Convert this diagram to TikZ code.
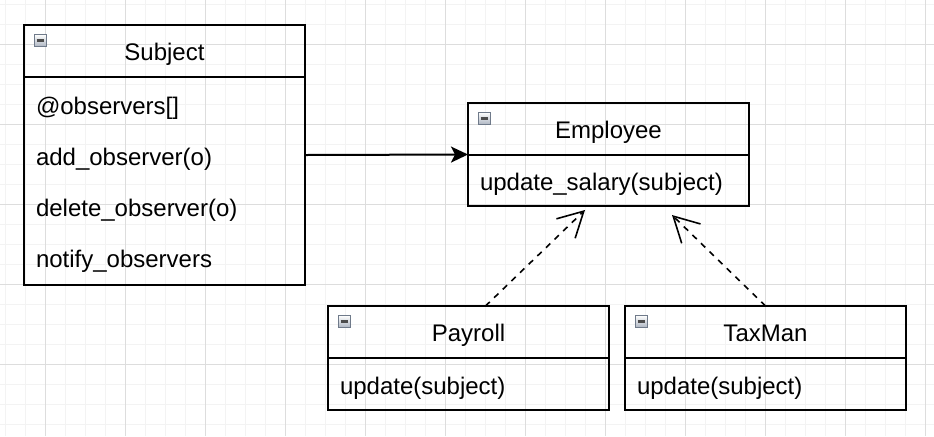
\documentclass[tikz,border=0pt]{standalone}
\usepackage{fontspec}
\setmainfont{Liberation Sans}
\usetikzlibrary{positioning,fit,arrows.meta,shadings}
\definecolor{gridminor}{HTML}{F3F3F3}
\definecolor{gridmajor}{HTML}{DDDDDD}
\definecolor{iconedge}{HTML}{6F7A8A}
\definecolor{iconlow}{HTML}{AEB6C2}
\begin{document}
\begin{tikzpicture}[x=0.5pt, y=-0.5pt, font=\fontsize{12}{14}\selectfont,
  head/.style={draw, line width=1pt, outer sep=0pt, inner sep=0pt, minimum width=140.5pt, minimum height=26pt, text height=9.5pt, text depth=0pt, anchor=north west},
  body/.style={draw, line width=1pt, outer sep=0pt, inner xsep=6pt, inner ysep=0pt, text width=128.5pt, align=left, font=\fontsize{12}{25.5}\selectfont, below=0pt of #1},
  oneline/.style={text height=10pt, text depth=0pt},
  minicon/.style={draw=iconedge, line width=0.7pt, top color=white, bottom color=iconlow, minimum size=6pt, inner sep=0pt, anchor=north west,
    path picture={\draw[line width=1.3pt, black!70] ([xshift=1.2pt]path picture bounding box.west) -- ([xshift=-1.2pt]path picture bounding box.east);}},
  outline/.style={fit=#1, inner sep=0pt, outer sep=0pt},
  realizes/.style={dashed, line width=0.8pt, -{Straight Barb[length=12.5pt, width=13.5pt]}}]

  \useasboundingbox (0,0) rectangle (934,436);

  % Grid
  \foreach \x in {5,25,...,925} \draw[gridminor, line width=0.5pt] (\x,0) -- (\x,436);
  \foreach \y in {4,24,...,424} \draw[gridminor, line width=0.5pt] (0,\y) -- (934,\y);
  \foreach \x in {45,125,...,925} \draw[gridmajor, line width=0.5pt] (\x,0) -- (\x,436);
  \foreach \y in {44,124,...,364} \draw[gridmajor, line width=0.5pt] (0,\y) -- (934,\y);

  % Subject
  \node[head] (subjhead) at (24,25) {Subject};
  \node[body=subjhead, minimum height=104pt] (subjbody) {\rule{0pt}{12.5pt}@observers[]\\add\_observer(o)\\delete\_observer(o)\\notify\_observers};
  \node[minicon] (subjicon) at ([xshift=4.8pt, yshift=-4.3pt]subjhead.north west) {};
  \node[outline={(subjhead)(subjbody)}] (subject) {};

  % Employee
  \node[head] (emplhead) at (468,103) {Employee};
  \node[body=emplhead, oneline, minimum height=25.5pt] (emplbody) {update\_salary(subject)};
  \node[minicon] (emplicon) at ([xshift=4.8pt, yshift=-4.3pt]emplhead.north west) {};
  \node[outline={(emplhead)(emplbody)}] (employee) {};

  % Payroll
  \node[head] (payhead) at (328,306) {Payroll};
  \node[body=payhead, oneline, minimum height=26pt] (paybody) {update(subject)};
  \node[minicon] (payicon) at ([xshift=4.8pt, yshift=-4.3pt]payhead.north west) {};
  \node[outline={(payhead)(paybody)}] (payroll) {};

  % TaxMan
  \node[head] (taxhead) at (625,306) {TaxMan};
  \node[body=taxhead, oneline, minimum height=26pt] (taxbody) {update(subject)};
  \node[minicon] (taxicon) at ([xshift=4.8pt, yshift=-4.3pt]taxhead.north west) {};
  \node[outline={(taxhead)(taxbody)}] (taxman) {};

  % Arrows
  \draw[-{Stealth[length=8.5pt, width=8pt, inset=2pt]}, line width=1pt] (subject.east) -- (employee.west);
  \draw[realizes] ([xshift=8.5pt]payroll.north) -- ([xshift=-11.75pt, yshift=-2pt]employee.south);
  \draw[realizes] (taxman.north) -- ([xshift=31.75pt, yshift=-4.5pt]employee.south);

\end{tikzpicture}
\end{document}
